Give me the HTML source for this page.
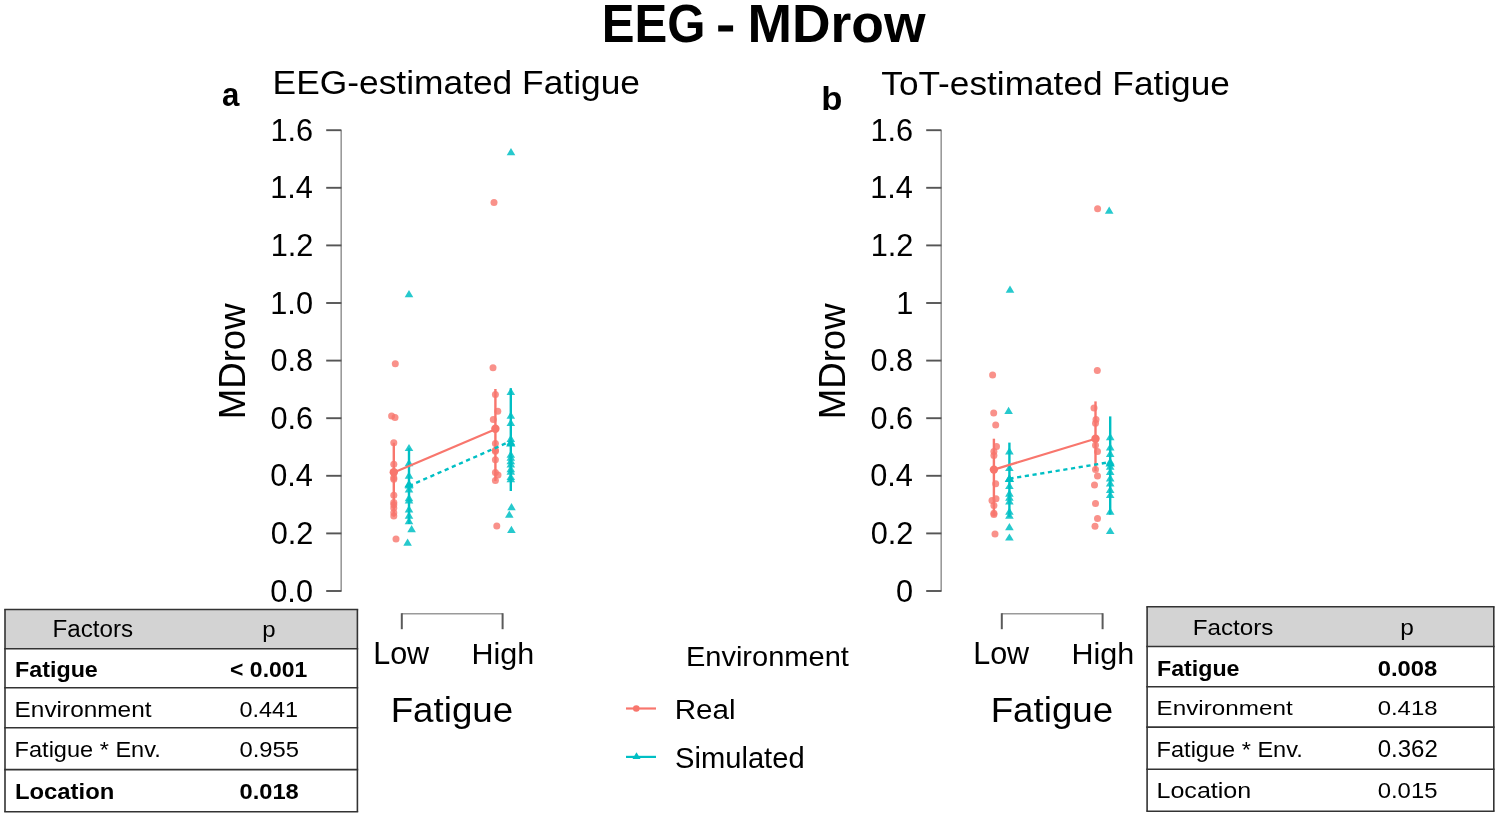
<!DOCTYPE html>
<html><head><meta charset="utf-8"><style>
html,body{margin:0;padding:0;background:#fff;}
body{width:1499px;height:817px;overflow:hidden;}
svg{display:block;font-family:"Liberation Sans",sans-serif;will-change:transform;}
</style></head><body>
<svg width="1499" height="817" viewBox="0 0 1499 817">
<rect width="1499" height="817" fill="#fff"/>
<text transform="translate(601.81,42.00) scale(0.9293,1)" font-size="52.86" font-weight="700" fill="#000">EEG</text>
<rect x="718.2" y="25.4" width="14.9" height="6.1" fill="#000"/>
<text transform="translate(747.43,42.00) scale(0.9969,1)" font-size="53.62" font-weight="700" fill="#000">MDrow</text>
<text transform="translate(221.96,105.60) scale(0.9417,1)" font-size="33.15" font-weight="700" fill="#000">a</text>
<text transform="translate(272.57,94.30) scale(1.0595,1)" font-size="33.38" font-weight="400" fill="#000">EEG-estimated Fatigue</text>
<line x1="341.2" y1="130.2" x2="341.2" y2="591.4" stroke="#9a9a9a" stroke-width="1.6" />
<line x1="326.2" y1="130.2" x2="341.4" y2="130.2" stroke="#555" stroke-width="1.9" />
<text transform="translate(270.44,140.70) scale(1.0000,1)" font-size="30.71" font-weight="400" fill="#000">1.6</text>
<line x1="326.2" y1="187.79999999999995" x2="341.4" y2="187.79999999999995" stroke="#555" stroke-width="1.9" />
<text transform="translate(270.13,198.30) scale(0.9857,1)" font-size="31.16" font-weight="400" fill="#000">1.4</text>
<line x1="326.2" y1="245.39999999999998" x2="341.4" y2="245.39999999999998" stroke="#555" stroke-width="1.9" />
<text transform="translate(270.74,255.90) scale(1.0000,1)" font-size="30.71" font-weight="400" fill="#000">1.2</text>
<line x1="326.2" y1="303.0" x2="341.4" y2="303.0" stroke="#555" stroke-width="1.9" />
<text transform="translate(270.28,313.50) scale(1.0000,1)" font-size="30.71" font-weight="400" fill="#000">1.0</text>
<line x1="326.2" y1="360.6" x2="341.4" y2="360.6" stroke="#555" stroke-width="1.9" />
<text transform="translate(270.44,371.10) scale(1.0000,1)" font-size="30.71" font-weight="400" fill="#000">0.8</text>
<line x1="326.2" y1="418.2" x2="341.4" y2="418.2" stroke="#555" stroke-width="1.9" />
<text transform="translate(270.44,428.70) scale(1.0000,1)" font-size="30.71" font-weight="400" fill="#000">0.6</text>
<line x1="326.2" y1="475.8" x2="341.4" y2="475.8" stroke="#555" stroke-width="1.9" />
<text transform="translate(270.13,486.30) scale(1.0000,1)" font-size="30.71" font-weight="400" fill="#000">0.4</text>
<line x1="326.2" y1="533.4" x2="341.4" y2="533.4" stroke="#555" stroke-width="1.9" />
<text transform="translate(270.74,543.90) scale(1.0000,1)" font-size="30.71" font-weight="400" fill="#000">0.2</text>
<line x1="326.2" y1="591.0" x2="341.4" y2="591.0" stroke="#555" stroke-width="1.9" />
<text transform="translate(270.28,601.50) scale(1.0000,1)" font-size="30.71" font-weight="400" fill="#000">0.0</text>
<text transform="translate(245.20,419.23) rotate(-90) scale(0.9857,1)" font-size="37.10">MDrow</text>
<line x1="401.8" y1="613.8" x2="502.6" y2="613.8" stroke="#9a9a9a" stroke-width="1.5" />
<line x1="401.8" y1="613.2" x2="401.8" y2="629.2" stroke="#5a5a5a" stroke-width="2" />
<line x1="502.6" y1="613.2" x2="502.6" y2="629.2" stroke="#5a5a5a" stroke-width="2" />
<text transform="translate(373.16,663.90) scale(0.9579,1)" font-size="31.88" font-weight="400" fill="#000">Low</text>
<text transform="translate(471.56,664.00) scale(1.0059,1)" font-size="30.34" font-weight="400" fill="#000">High</text>
<text transform="translate(390.66,722.20) scale(1.0330,1)" font-size="35.59" font-weight="400" fill="#000">Fatigue</text>
<text transform="translate(821.35,110.10) scale(1.0512,1)" font-size="32.97" font-weight="700" fill="#000">b</text>
<text transform="translate(881.29,95.00) scale(1.0391,1)" font-size="33.93" font-weight="400" fill="#000">ToT-estimated Fatigue</text>
<line x1="941.2" y1="130.2" x2="941.2" y2="591.4" stroke="#9a9a9a" stroke-width="1.6" />
<line x1="926.2" y1="130.2" x2="941.4000000000001" y2="130.2" stroke="#555" stroke-width="1.9" />
<text transform="translate(870.44,140.70) scale(1.0000,1)" font-size="30.71" font-weight="400" fill="#000">1.6</text>
<line x1="926.2" y1="187.79999999999995" x2="941.4000000000001" y2="187.79999999999995" stroke="#555" stroke-width="1.9" />
<text transform="translate(870.13,198.30) scale(0.9857,1)" font-size="31.16" font-weight="400" fill="#000">1.4</text>
<line x1="926.2" y1="245.39999999999998" x2="941.4000000000001" y2="245.39999999999998" stroke="#555" stroke-width="1.9" />
<text transform="translate(870.74,255.90) scale(1.0000,1)" font-size="30.71" font-weight="400" fill="#000">1.2</text>
<line x1="926.2" y1="303.0" x2="941.4000000000001" y2="303.0" stroke="#555" stroke-width="1.9" />
<text transform="translate(896.24,313.50) scale(0.9857,1)" font-size="31.16" font-weight="400" fill="#000">1</text>
<line x1="926.2" y1="360.6" x2="941.4000000000001" y2="360.6" stroke="#555" stroke-width="1.9" />
<text transform="translate(870.44,371.10) scale(1.0000,1)" font-size="30.71" font-weight="400" fill="#000">0.8</text>
<line x1="926.2" y1="418.2" x2="941.4000000000001" y2="418.2" stroke="#555" stroke-width="1.9" />
<text transform="translate(870.44,428.70) scale(1.0000,1)" font-size="30.71" font-weight="400" fill="#000">0.6</text>
<line x1="926.2" y1="475.8" x2="941.4000000000001" y2="475.8" stroke="#555" stroke-width="1.9" />
<text transform="translate(870.13,486.30) scale(1.0000,1)" font-size="30.71" font-weight="400" fill="#000">0.4</text>
<line x1="926.2" y1="533.4" x2="941.4000000000001" y2="533.4" stroke="#555" stroke-width="1.9" />
<text transform="translate(870.74,543.90) scale(1.0000,1)" font-size="30.71" font-weight="400" fill="#000">0.2</text>
<line x1="926.2" y1="591.0" x2="941.4000000000001" y2="591.0" stroke="#555" stroke-width="1.9" />
<text transform="translate(895.93,601.50) scale(1.0000,1)" font-size="30.71" font-weight="400" fill="#000">0</text>
<text transform="translate(845.20,419.23) rotate(-90) scale(0.9857,1)" font-size="37.10">MDrow</text>
<line x1="1001.8" y1="613.8" x2="1102.6" y2="613.8" stroke="#9a9a9a" stroke-width="1.5" />
<line x1="1001.8" y1="613.2" x2="1001.8" y2="629.2" stroke="#5a5a5a" stroke-width="2" />
<line x1="1102.6" y1="613.2" x2="1102.6" y2="629.2" stroke="#5a5a5a" stroke-width="2" />
<text transform="translate(973.16,663.90) scale(0.9579,1)" font-size="31.88" font-weight="400" fill="#000">Low</text>
<text transform="translate(1071.56,664.00) scale(1.0059,1)" font-size="30.34" font-weight="400" fill="#000">High</text>
<text transform="translate(990.66,722.20) scale(1.0330,1)" font-size="35.59" font-weight="400" fill="#000">Fatigue</text>
<text transform="translate(685.88,666.40) scale(1.0224,1)" font-size="28.41" font-weight="400" fill="#000">Environment</text>
<text transform="translate(674.73,719.10) scale(1.0565,1)" font-size="28.00" font-weight="400" fill="#000">Real</text>
<text transform="translate(675.09,767.50) scale(1.0155,1)" font-size="28.69" font-weight="400" fill="#000">Simulated</text>
<line x1="626" y1="708.5" x2="656" y2="708.5" stroke="#F8766D" stroke-width="2.2" />
<circle cx="636.3" cy="708.5" r="3.3" fill="#F8766D"/>
<line x1="626" y1="756.9" x2="656" y2="756.9" stroke="#00BFC4" stroke-width="2.2" />
<path d="M636.5 752.2 L640.5 759 L632.5 759 Z" fill="#00BFC4"/>
<line x1="393.8" y1="442.7" x2="393.8" y2="516.7" stroke="#F8766D" stroke-width="2.4" />
<circle cx="395.3" cy="363.8" r="3.5" fill="#F8766D" fill-opacity="0.8"/>
<circle cx="391.6" cy="416.0" r="3.5" fill="#F8766D" fill-opacity="0.8"/>
<circle cx="395.0" cy="417.6" r="3.5" fill="#F8766D" fill-opacity="0.8"/>
<circle cx="393.8" cy="442.7" r="3.5" fill="#F8766D" fill-opacity="0.8"/>
<circle cx="393.8" cy="464.2" r="3.5" fill="#F8766D" fill-opacity="0.8"/>
<circle cx="393.8" cy="477.7" r="3.5" fill="#F8766D" fill-opacity="0.8"/>
<circle cx="393.8" cy="479.3" r="3.5" fill="#F8766D" fill-opacity="0.8"/>
<circle cx="393.8" cy="495.3" r="3.5" fill="#F8766D" fill-opacity="0.8"/>
<circle cx="393.8" cy="502.4" r="3.5" fill="#F8766D" fill-opacity="0.8"/>
<circle cx="393.8" cy="504.8" r="3.5" fill="#F8766D" fill-opacity="0.8"/>
<circle cx="393.8" cy="508.0" r="3.5" fill="#F8766D" fill-opacity="0.8"/>
<circle cx="393.8" cy="512.8" r="3.5" fill="#F8766D" fill-opacity="0.8"/>
<circle cx="393.8" cy="516.0" r="3.5" fill="#F8766D" fill-opacity="0.8"/>
<circle cx="396.0" cy="539.0" r="3.5" fill="#F8766D" fill-opacity="0.8"/>
<circle cx="393.8" cy="472.2" r="4.2" fill="#F8766D" fill-opacity="1"/>
<line x1="409.0" y1="448.3" x2="409.0" y2="524" stroke="#00BFC4" stroke-width="2.4" />
<path d="M409.0 290.0 L413.3 297.2 L404.7 297.2 Z" fill="#00BFC4" fill-opacity="0.85"/>
<path d="M409.0 443.9 L413.3 451.1 L404.7 451.1 Z" fill="#00BFC4" fill-opacity="0.85"/>
<path d="M409.0 459.0 L413.3 466.2 L404.7 466.2 Z" fill="#00BFC4" fill-opacity="0.85"/>
<path d="M409.0 471.6 L413.3 478.8 L404.7 478.8 Z" fill="#00BFC4" fill-opacity="0.85"/>
<path d="M409.0 481.3 L413.3 488.5 L404.7 488.5 Z" fill="#00BFC4" fill-opacity="0.85"/>
<path d="M409.0 485.3 L413.3 492.5 L404.7 492.5 Z" fill="#00BFC4" fill-opacity="0.85"/>
<path d="M409.0 494.0 L413.3 501.2 L404.7 501.2 Z" fill="#00BFC4" fill-opacity="0.85"/>
<path d="M409.0 496.4 L413.3 503.6 L404.7 503.6 Z" fill="#00BFC4" fill-opacity="0.85"/>
<path d="M409.0 505.2 L413.3 512.4 L404.7 512.4 Z" fill="#00BFC4" fill-opacity="0.85"/>
<path d="M409.0 511.6 L413.3 518.8 L404.7 518.8 Z" fill="#00BFC4" fill-opacity="0.85"/>
<path d="M409.0 517.1 L413.3 524.3 L404.7 524.3 Z" fill="#00BFC4" fill-opacity="0.85"/>
<path d="M411.6 525.1 L415.9 532.3 L407.3 532.3 Z" fill="#00BFC4" fill-opacity="0.85"/>
<path d="M407.6 538.6 L411.9 545.8 L403.3 545.8 Z" fill="#00BFC4" fill-opacity="0.85"/>
<path d="M409.0 479.7 L413.7 487.6 L404.3 487.6 Z" fill="#00BFC4" fill-opacity="1"/>
<line x1="495.4" y1="389" x2="495.4" y2="481" stroke="#F8766D" stroke-width="2.4" />
<circle cx="493.0" cy="367.8" r="3.5" fill="#F8766D" fill-opacity="0.8"/>
<circle cx="494.0" cy="202.5" r="3.5" fill="#F8766D" fill-opacity="0.8"/>
<circle cx="495.4" cy="394.6" r="3.5" fill="#F8766D" fill-opacity="0.8"/>
<circle cx="497.8" cy="411.3" r="3.5" fill="#F8766D" fill-opacity="0.8"/>
<circle cx="493.3" cy="419.6" r="3.5" fill="#F8766D" fill-opacity="0.8"/>
<circle cx="495.4" cy="443.6" r="3.5" fill="#F8766D" fill-opacity="0.8"/>
<circle cx="495.4" cy="450.3" r="3.5" fill="#F8766D" fill-opacity="0.8"/>
<circle cx="495.4" cy="451.2" r="3.5" fill="#F8766D" fill-opacity="0.8"/>
<circle cx="495.4" cy="459.8" r="3.5" fill="#F8766D" fill-opacity="0.8"/>
<circle cx="495.4" cy="472.6" r="3.5" fill="#F8766D" fill-opacity="0.8"/>
<circle cx="498.0" cy="475.0" r="3.5" fill="#F8766D" fill-opacity="0.8"/>
<circle cx="495.4" cy="480.6" r="3.5" fill="#F8766D" fill-opacity="0.8"/>
<circle cx="496.8" cy="525.9" r="3.5" fill="#F8766D" fill-opacity="0.8"/>
<circle cx="495.4" cy="428.8" r="4.2" fill="#F8766D" fill-opacity="1"/>
<line x1="510.8" y1="388.2" x2="510.8" y2="491" stroke="#00BFC4" stroke-width="2.4" />
<path d="M511.0 148.1 L515.3 155.3 L506.7 155.3 Z" fill="#00BFC4" fill-opacity="0.85"/>
<path d="M510.8 387.8 L515.1 395.0 L506.5 395.0 Z" fill="#00BFC4" fill-opacity="0.85"/>
<path d="M510.8 411.6 L515.1 418.8 L506.5 418.8 Z" fill="#00BFC4" fill-opacity="0.85"/>
<path d="M510.8 418.8 L515.1 426.0 L506.5 426.0 Z" fill="#00BFC4" fill-opacity="0.85"/>
<path d="M510.8 434.7 L515.1 441.9 L506.5 441.9 Z" fill="#00BFC4" fill-opacity="0.85"/>
<path d="M510.8 437.9 L515.1 445.1 L506.5 445.1 Z" fill="#00BFC4" fill-opacity="0.85"/>
<path d="M510.8 450.6 L515.1 457.8 L506.5 457.8 Z" fill="#00BFC4" fill-opacity="0.85"/>
<path d="M510.8 453.6 L515.1 460.8 L506.5 460.8 Z" fill="#00BFC4" fill-opacity="0.85"/>
<path d="M510.8 457.0 L515.1 464.2 L506.5 464.2 Z" fill="#00BFC4" fill-opacity="0.85"/>
<path d="M510.8 460.3 L515.1 467.5 L506.5 467.5 Z" fill="#00BFC4" fill-opacity="0.85"/>
<path d="M510.8 465.0 L515.1 472.2 L506.5 472.2 Z" fill="#00BFC4" fill-opacity="0.85"/>
<path d="M510.8 467.6 L515.1 474.8 L506.5 474.8 Z" fill="#00BFC4" fill-opacity="0.85"/>
<path d="M510.8 472.9 L515.1 480.1 L506.5 480.1 Z" fill="#00BFC4" fill-opacity="0.85"/>
<path d="M510.8 475.0 L515.1 482.2 L506.5 482.2 Z" fill="#00BFC4" fill-opacity="0.85"/>
<path d="M511.5 503.1 L515.8 510.3 L507.2 510.3 Z" fill="#00BFC4" fill-opacity="0.85"/>
<path d="M509.3 510.5 L513.6 517.7 L505.0 517.7 Z" fill="#00BFC4" fill-opacity="0.85"/>
<path d="M511.4 525.8 L515.7 533.0 L507.1 533.0 Z" fill="#00BFC4" fill-opacity="0.85"/>
<path d="M510.8 438.7 L515.5 446.6 L506.1 446.6 Z" fill="#00BFC4" fill-opacity="1"/>
<line x1="393.8" y1="472.4" x2="495.4" y2="429.2" stroke="#F8766D" stroke-width="2.2" />
<line x1="409.0" y1="486" x2="510.8" y2="441.2" stroke="#00BFC4" stroke-width="2.4" stroke-dasharray="4.2,3.6"/>
<line x1="993.9" y1="438.7" x2="993.9" y2="515.9" stroke="#F8766D" stroke-width="2.4" />
<circle cx="992.6" cy="375.0" r="3.5" fill="#F8766D" fill-opacity="0.8"/>
<circle cx="993.7" cy="413.0" r="3.5" fill="#F8766D" fill-opacity="0.8"/>
<circle cx="995.7" cy="425.1" r="3.5" fill="#F8766D" fill-opacity="0.8"/>
<circle cx="996.5" cy="446.4" r="3.5" fill="#F8766D" fill-opacity="0.8"/>
<circle cx="993.9" cy="451.6" r="3.5" fill="#F8766D" fill-opacity="0.8"/>
<circle cx="993.9" cy="455.5" r="3.5" fill="#F8766D" fill-opacity="0.8"/>
<circle cx="995.7" cy="483.7" r="3.5" fill="#F8766D" fill-opacity="0.8"/>
<circle cx="996.0" cy="498.7" r="3.5" fill="#F8766D" fill-opacity="0.8"/>
<circle cx="992.0" cy="500.5" r="3.5" fill="#F8766D" fill-opacity="0.8"/>
<circle cx="993.9" cy="505.6" r="3.5" fill="#F8766D" fill-opacity="0.8"/>
<circle cx="993.9" cy="513.3" r="3.5" fill="#F8766D" fill-opacity="0.8"/>
<circle cx="993.9" cy="514.6" r="3.5" fill="#F8766D" fill-opacity="0.8"/>
<circle cx="995.0" cy="533.9" r="3.5" fill="#F8766D" fill-opacity="0.8"/>
<circle cx="993.9" cy="469.6" r="4.2" fill="#F8766D" fill-opacity="1"/>
<line x1="1009.4" y1="442.6" x2="1009.4" y2="517" stroke="#00BFC4" stroke-width="2.4" />
<path d="M1010.0 285.6 L1014.3 292.8 L1005.7 292.8 Z" fill="#00BFC4" fill-opacity="0.85"/>
<path d="M1008.6 406.8 L1012.9 414.0 L1004.3 414.0 Z" fill="#00BFC4" fill-opacity="0.85"/>
<path d="M1009.4 447.2 L1013.7 454.4 L1005.1 454.4 Z" fill="#00BFC4" fill-opacity="0.85"/>
<path d="M1009.4 463.9 L1013.7 471.1 L1005.1 471.1 Z" fill="#00BFC4" fill-opacity="0.85"/>
<path d="M1009.4 474.2 L1013.7 481.4 L1005.1 481.4 Z" fill="#00BFC4" fill-opacity="0.85"/>
<path d="M1009.4 481.9 L1013.7 489.1 L1005.1 489.1 Z" fill="#00BFC4" fill-opacity="0.85"/>
<path d="M1009.4 489.6 L1013.7 496.8 L1005.1 496.8 Z" fill="#00BFC4" fill-opacity="0.85"/>
<path d="M1009.4 493.5 L1013.7 500.7 L1005.1 500.7 Z" fill="#00BFC4" fill-opacity="0.85"/>
<path d="M1009.4 497.3 L1013.7 504.5 L1005.1 504.5 Z" fill="#00BFC4" fill-opacity="0.85"/>
<path d="M1009.4 507.6 L1013.7 514.8 L1005.1 514.8 Z" fill="#00BFC4" fill-opacity="0.85"/>
<path d="M1009.4 511.5 L1013.7 518.7 L1005.1 518.7 Z" fill="#00BFC4" fill-opacity="0.85"/>
<path d="M1009.4 523.1 L1013.7 530.3 L1005.1 530.3 Z" fill="#00BFC4" fill-opacity="0.85"/>
<path d="M1009.4 533.4 L1013.7 540.6 L1005.1 540.6 Z" fill="#00BFC4" fill-opacity="0.85"/>
<path d="M1009.4 474.2 L1014.1 482.1 L1004.7 482.1 Z" fill="#00BFC4" fill-opacity="1"/>
<line x1="1095.5" y1="401.4" x2="1095.5" y2="470.9" stroke="#F8766D" stroke-width="2.4" />
<circle cx="1097.6" cy="208.8" r="3.5" fill="#F8766D" fill-opacity="0.8"/>
<circle cx="1097.3" cy="370.6" r="3.5" fill="#F8766D" fill-opacity="0.8"/>
<circle cx="1094.0" cy="407.9" r="3.5" fill="#F8766D" fill-opacity="0.8"/>
<circle cx="1096.0" cy="419.4" r="3.5" fill="#F8766D" fill-opacity="0.8"/>
<circle cx="1095.5" cy="423.3" r="3.5" fill="#F8766D" fill-opacity="0.8"/>
<circle cx="1095.5" cy="445.2" r="3.5" fill="#F8766D" fill-opacity="0.8"/>
<circle cx="1097.5" cy="451.6" r="3.5" fill="#F8766D" fill-opacity="0.8"/>
<circle cx="1095.5" cy="469.6" r="3.5" fill="#F8766D" fill-opacity="0.8"/>
<circle cx="1097.5" cy="476.0" r="3.5" fill="#F8766D" fill-opacity="0.8"/>
<circle cx="1094.5" cy="485.0" r="3.5" fill="#F8766D" fill-opacity="0.8"/>
<circle cx="1095.5" cy="503.5" r="3.5" fill="#F8766D" fill-opacity="0.8"/>
<circle cx="1097.5" cy="518.5" r="3.5" fill="#F8766D" fill-opacity="0.8"/>
<circle cx="1095.0" cy="526.2" r="3.5" fill="#F8766D" fill-opacity="0.8"/>
<circle cx="1095.5" cy="438.7" r="4.2" fill="#F8766D" fill-opacity="1"/>
<line x1="1110.2" y1="416.4" x2="1110.2" y2="514.6" stroke="#00BFC4" stroke-width="2.4" />
<path d="M1109.2 206.6 L1113.5 213.8 L1104.9 213.8 Z" fill="#00BFC4" fill-opacity="0.85"/>
<path d="M1110.2 433.0 L1114.5 440.2 L1105.9 440.2 Z" fill="#00BFC4" fill-opacity="0.85"/>
<path d="M1110.2 443.3 L1114.5 450.5 L1105.9 450.5 Z" fill="#00BFC4" fill-opacity="0.85"/>
<path d="M1110.2 449.8 L1114.5 457.0 L1105.9 457.0 Z" fill="#00BFC4" fill-opacity="0.85"/>
<path d="M1110.2 457.5 L1114.5 464.7 L1105.9 464.7 Z" fill="#00BFC4" fill-opacity="0.85"/>
<path d="M1110.2 462.6 L1114.5 469.8 L1105.9 469.8 Z" fill="#00BFC4" fill-opacity="0.85"/>
<path d="M1110.2 467.8 L1114.5 475.0 L1105.9 475.0 Z" fill="#00BFC4" fill-opacity="0.85"/>
<path d="M1110.2 474.2 L1114.5 481.4 L1105.9 481.4 Z" fill="#00BFC4" fill-opacity="0.85"/>
<path d="M1110.2 479.3 L1114.5 486.5 L1105.9 486.5 Z" fill="#00BFC4" fill-opacity="0.85"/>
<path d="M1110.2 485.8 L1114.5 493.0 L1105.9 493.0 Z" fill="#00BFC4" fill-opacity="0.85"/>
<path d="M1110.2 490.9 L1114.5 498.1 L1105.9 498.1 Z" fill="#00BFC4" fill-opacity="0.85"/>
<path d="M1110.2 507.6 L1114.5 514.8 L1105.9 514.8 Z" fill="#00BFC4" fill-opacity="0.85"/>
<path d="M1110.2 526.9 L1114.5 534.1 L1105.9 534.1 Z" fill="#00BFC4" fill-opacity="0.85"/>
<path d="M1110.2 458.7 L1114.9 466.6 L1105.5 466.6 Z" fill="#00BFC4" fill-opacity="1"/>
<line x1="993.9" y1="469.6" x2="1095.5" y2="438.7" stroke="#F8766D" stroke-width="2.2" />
<line x1="1009.4" y1="478.7" x2="1110.2" y2="462.1" stroke="#00BFC4" stroke-width="2.4" stroke-dasharray="4.2,3.6"/>
<rect x="5" y="609.5" width="352.4" height="39.200000000000045" fill="#d3d3d3"/>
<line x1="4.2" y1="609.5" x2="358.2" y2="609.5" stroke="#333" stroke-width="1.6" />
<line x1="4.2" y1="648.7" x2="358.2" y2="648.7" stroke="#333" stroke-width="1.6" />
<line x1="4.2" y1="687.7" x2="358.2" y2="687.7" stroke="#333" stroke-width="1.6" />
<line x1="4.2" y1="727.8" x2="358.2" y2="727.8" stroke="#333" stroke-width="1.6" />
<line x1="4.2" y1="769.6" x2="358.2" y2="769.6" stroke="#333" stroke-width="1.6" />
<line x1="4.2" y1="811.7" x2="358.2" y2="811.7" stroke="#333" stroke-width="1.6" />
<line x1="5" y1="609.5" x2="5" y2="811.7" stroke="#333" stroke-width="1.6" />
<line x1="357.4" y1="609.5" x2="357.4" y2="811.7" stroke="#333" stroke-width="1.6" />
<text transform="translate(52.46,637.20) scale(1.0433,1)" font-size="23.19" font-weight="400" fill="#000">Factors</text>
<text transform="translate(262.14,636.70) scale(1.1077,1)" font-size="21.67" font-weight="400" fill="#000">p</text>
<text transform="translate(14.99,677.00) scale(1.0558,1)" font-size="22.07" font-weight="700" fill="#000">Fatigue</text>
<text transform="translate(230.08,677.00) scale(1.0049,1)" font-size="22.86" font-weight="700" fill="#000">&lt; 0.001</text>
<text transform="translate(14.55,716.90) scale(1.1133,1)" font-size="21.93" font-weight="400" fill="#000">Environment</text>
<text transform="translate(239.46,716.90) scale(1.0318,1)" font-size="22.71" font-weight="400" fill="#000">0.441</text>
<text transform="translate(14.62,756.70) scale(1.0736,1)" font-size="21.93" font-weight="400" fill="#000">Fatigue * Env.</text>
<text transform="translate(239.45,756.70) scale(1.0479,1)" font-size="22.71" font-weight="400" fill="#000">0.955</text>
<text transform="translate(14.95,799.20) scale(1.0880,1)" font-size="21.93" font-weight="700" fill="#000">Location</text>
<text transform="translate(239.45,799.20) scale(1.0436,1)" font-size="22.71" font-weight="700" fill="#000">0.018</text>
<rect x="1147.1" y="606.7" width="346.70000000000005" height="39.799999999999955" fill="#d3d3d3"/>
<line x1="1146.3" y1="606.7" x2="1494.6" y2="606.7" stroke="#333" stroke-width="1.6" />
<line x1="1146.3" y1="646.5" x2="1494.6" y2="646.5" stroke="#333" stroke-width="1.6" />
<line x1="1146.3" y1="686.7" x2="1494.6" y2="686.7" stroke="#333" stroke-width="1.6" />
<line x1="1146.3" y1="727.1" x2="1494.6" y2="727.1" stroke="#333" stroke-width="1.6" />
<line x1="1146.3" y1="769.2" x2="1494.6" y2="769.2" stroke="#333" stroke-width="1.6" />
<line x1="1146.3" y1="811.2" x2="1494.6" y2="811.2" stroke="#333" stroke-width="1.6" />
<line x1="1147.1" y1="606.7" x2="1147.1" y2="811.2" stroke="#333" stroke-width="1.6" />
<line x1="1493.8" y1="606.7" x2="1493.8" y2="811.2" stroke="#333" stroke-width="1.6" />
<text transform="translate(1192.76,635.20) scale(1.0646,1)" font-size="22.75" font-weight="400" fill="#000">Factors</text>
<text transform="translate(1400.21,634.70) scale(1.1186,1)" font-size="21.85" font-weight="400" fill="#000">p</text>
<text transform="translate(1156.99,676.00) scale(1.0651,1)" font-size="21.79" font-weight="700" fill="#000">Fatigue</text>
<text transform="translate(1377.65,676.00) scale(1.0556,1)" font-size="22.57" font-weight="700" fill="#000">0.008</text>
<text transform="translate(1156.56,715.40) scale(1.2211,1)" font-size="19.86" font-weight="400" fill="#000">Environment</text>
<text transform="translate(1377.64,715.40) scale(1.1631,1)" font-size="20.57" font-weight="400" fill="#000">0.418</text>
<text transform="translate(1156.61,756.70) scale(1.0480,1)" font-size="22.48" font-weight="400" fill="#000">Fatigue * Env.</text>
<text transform="translate(1377.64,756.70) scale(1.0317,1)" font-size="23.29" font-weight="400" fill="#000">0.362</text>
<text transform="translate(1156.50,798.30) scale(1.1500,1)" font-size="21.79" font-weight="400" fill="#000">Location</text>
<text transform="translate(1377.64,798.30) scale(1.0600,1)" font-size="22.57" font-weight="400" fill="#000">0.015</text>
</svg></body></html>
